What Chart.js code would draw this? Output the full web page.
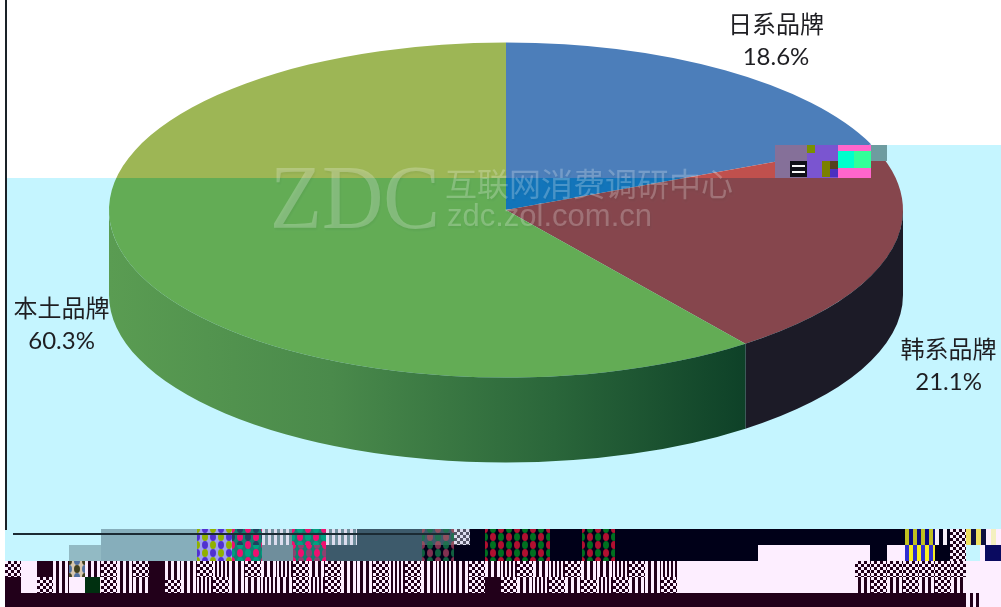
<!DOCTYPE html>
<html>
<head>
<meta charset="utf-8">
<style>
  html, body { margin: 0; padding: 0; background: #fff; overflow: hidden; }
  canvas { display: block; }
</style>
<script src="https://cdn.jsdelivr.net/npm/chart.js@4/dist/chart.umd.min.js"></script>
</head>
<body>
<canvas id="pie" width="1001" height="607"></canvas>
<script>
const categories = ['日系品牌', '韩系品牌', '本土品牌'];
const shares = [18.6, 21.1, 60.3];
const sliceColors = ['#4C7EBA', '#C0504D', '#9DB655'];

const tilt = 0.422;   // ellipse height / width
const depth = 85;     // side wall height
const labelFont = '"Lato", "Noto Sans CJK SC", sans-serif';
// label centre relative to the middle of the slice rim
const labelOffsets = [[51, -29], [59, 113], [-68, 62]];

const DARK = '#22001A', PALE = '#FDEEFF', NAVY = '#000018';

function checker(ctx, x, y, w, h, a, b, cell) {
  ctx.fillStyle = a;
  ctx.fillRect(x, y, w, h);
  ctx.fillStyle = b;
  for (let j = 0; j * cell < h; j++) {
    for (let i = j % 2; i * cell < w; i += 2) {
      ctx.fillRect(x + i * cell, y + j * cell, Math.min(cell, w - i * cell), Math.min(cell, h - j * cell));
    }
  }
}

function stripes(ctx, x, y, w, h, a, b, step) {
  ctx.fillStyle = a;
  ctx.fillRect(x, y, w, h);
  ctx.fillStyle = b;
  for (let i = 0; i < w; i += step * 2) ctx.fillRect(x + i, y, Math.min(step, w - i), h);
}

// red/green blotches of the broken blocks
function blotches(ctx, x, y, w, h, base, c1, c2) {
  ctx.save();
  ctx.beginPath();
  ctx.rect(x, y, w, h);
  ctx.clip();
  ctx.fillStyle = base;
  ctx.fillRect(x, y, w, h);
  for (let j = 0; j < h + 8; j += 8) {
    for (let i = 0; i < w + 8; i += 8) {
      ctx.fillStyle = (i + j) % 16 === 0 ? c1 : c2;
      ctx.beginPath();
      ctx.ellipse(x + i, y + j, 3, 4, 0, 0, Math.PI * 2);
      ctx.fill();
    }
  }
  ctx.restore();
}

function drawNoiseStrip(ctx) {
  const solid = [
    [0, 178, 5, 351, '#FFFFFF'], [0, 529, 5, 78, '#FFFFFF'],
    [5, 529, 96, 16, '#C5F5FF'], [101, 529, 96, 16, '#86AEBB'], [357, 529, 65, 16, '#3D5A6B'],
    [422, 529, 579, 16, NAVY], [5, 545, 64, 16, '#C5F5FF'], [69, 545, 32, 16, '#92BAC4'],
    [101, 545, 96, 16, '#86AEBB'], [262, 545, 31, 16, '#6F8E9C'], [326, 545, 96, 16, '#3D5A6B'],
    [422, 545, 336, 16, NAVY], [758, 545, 112, 16, PALE], [870, 545, 17, 16, NAVY],
    [887, 545, 18, 16, PALE], [935, 545, 15, 16, NAVY], [980, 545, 21, 16, PALE],
    [985, 545, 16, 16, '#0A0A60'], [5, 561, 996, 32, DARK], [5, 593, 961, 14, DARK]
  ];
  solid.forEach(b => { ctx.fillStyle = b[4]; ctx.fillRect(b[0], b[1], b[2], b[3]); });

  // mixed colour blocks
  blotches(ctx, 197, 529, 35, 32, '#A0A0F0', '#90B000', '#5030D0');
  blotches(ctx, 232, 529, 30, 16, '#108070', '#F01070', '#204060');
  blotches(ctx, 292, 529, 34, 16, '#108070', '#F01070', '#00A080');
  blotches(ctx, 232, 545, 30, 16, '#108070', '#F01070', '#00A080');
  blotches(ctx, 293, 545, 33, 16, '#108070', '#F01070', '#904070');
  blotches(ctx, 422, 529, 32, 16, '#3D5A6B', '#905060', '#207050');
  blotches(ctx, 422, 545, 32, 16, NAVY, '#803050', '#106040');
  blotches(ctx, 485, 529, 65, 32, NAVY, '#B01030', '#007020');
  blotches(ctx, 582, 529, 33, 32, NAVY, '#B01030', '#007020');
  stripes(ctx, 262, 529, 30, 16, '#6F8E9C', '#DDE', 3);
  stripes(ctx, 326, 529, 31, 16, '#6F8E9C', '#DDE', 3);
  checker(ctx, 454, 529, 16, 16, '#556', '#DDE', 3);
  stripes(ctx, 905, 529, 30, 16, '#0A0A80', '#C0C020', 4);
  stripes(ctx, 935, 529, 15, 16, NAVY, '#F4F0F8', 4);
  checker(ctx, 950, 529, 16, 32, DARK, PALE, 3);
  stripes(ctx, 966, 529, 20, 16, '#101040', '#F0E060', 5);
  stripes(ctx, 986, 529, 15, 16, '#F4F0C0', PALE, 5);
  stripes(ctx, 905, 545, 30, 16, '#F8F020', '#3030D0', 4);

  // black and pale pattern rows, one letter per 16px cell
  const rows = [
    [561, 'cpdsmscscdsscxscsxcscsscxcsxscsxcsxcssxcsxs'],
    [577, 'dpcspgcssdcsxcssxscxcsscxcsxscdcsxcscxcsscs']
  ];
  rows.forEach(r => {
    r[1].split('').forEach((k, i) => {
      const x = 5 + i * 16;
      if (k === 'c') checker(ctx, x, r[0], 16, 16, DARK, PALE, 3);
      if (k === 's' || k === 'x') stripes(ctx, x, r[0], 16, 16, DARK, PALE, k === 's' ? 3 : 2);
      if (k === 'p') { ctx.fillStyle = PALE; ctx.fillRect(x, r[0], 16, 16); }
      if (k === 'g') { ctx.fillStyle = '#F8E8F0'; ctx.fillRect(x, r[0], 16, 16); }
      if (k === 'm') blotches(ctx, x, r[0], 16, 16, '#D8C8B0', '#404020', '#5070A0');
    });
  });
  ctx.fillStyle = '#003010';
  ctx.fillRect(85, 577, 15, 16);
  ctx.fillStyle = PALE;
  ctx.fillRect(678, 561, 177, 32);
  ctx.fillRect(966, 561, 35, 46);
  for (let x = 855; x < 966; x += 16) {
    checker(ctx, x, 561, Math.min(16, 966 - x), 16, DARK, PALE, 3);
    if ((x - 855) % 32 === 0) stripes(ctx, x, 577, Math.min(16, 966 - x), 16, DARK, PALE, 3);
    else checker(ctx, x, 577, Math.min(16, 966 - x), 16, DARK, PALE, 3);
  }
  stripes(ctx, 970, 593, 11, 14, PALE, DARK, 3);

  ctx.fillStyle = '#1B2A33';
  ctx.fillRect(13, 533, 437, 2);
}

function drawTearBlock(ctx) {
  const b = [
    [775, 145, 32, 33, '#857099'], [790, 161, 17, 16, '#101018'], [792, 165, 13, 2, '#F8F8F8'],
    [792, 171, 13, 2, '#F8F8F8'], [807, 145, 31, 33, '#7A55D0'], [807, 145, 8, 8, '#7A9000'],
    [822, 161, 8, 16, '#7A8000'], [830, 161, 8, 8, '#554020'], [830, 169, 8, 8, '#4A30C0'],
    [838, 145, 33, 33, '#FF66CC'], [838, 151, 16, 17, '#00FFCC'], [854, 151, 17, 17, '#33FF99'],
    [871, 145, 16, 16, '#6E9CA0']
  ];
  b.forEach(r => { ctx.fillStyle = r[4]; ctx.fillRect(r[0], r[1], r[2], r[3]); });
}

const pie3d = {
  id: 'pie3d',
  beforeDraw(chart) {
    chart.ctx.fillStyle = '#fff';
    chart.ctx.fillRect(0, 0, chart.width, chart.height);
  },
  beforeDatasetDraw(chart) {
    const arc = chart.getDatasetMeta(0).data[0];
    const ctx = chart.ctx;
    ctx.save();
    ctx.translate(0, arc.y);
    ctx.scale(1, tilt);
    ctx.translate(0, -arc.y);
  },
  afterDatasetDraw(chart) {
    chart.ctx.restore();
  },
  afterDatasetsDraw(chart) {
    const ctx = chart.ctx;
    const arcs = chart.getDatasetMeta(0).data;

    // the colour shift of the lower part of the picture
    ctx.save();
    ctx.globalCompositeOperation = 'difference';
    ctx.fillStyle = 'rgb(58,10,0)';
    ctx.fillRect(0, 178, chart.width, chart.height - 178);
    ctx.fillRect(871, 145, chart.width - 871, 33);
    ctx.restore();

    // side wall, only the front half shows
    const x0 = arcs[0].x - arcs[0].outerRadius;
    const wallGreen = ctx.createLinearGradient(x0, 0, 745, 0);
    wallGreen.addColorStop(0, '#5A9C52');
    wallGreen.addColorStop(0.35, '#4A8A4B');
    wallGreen.addColorStop(0.7, '#2A663A');
    wallGreen.addColorStop(1, '#0E4128');
    const wallFills = [null, '#1C1B27', wallGreen];
    arcs.forEach((a, i) => {
      const from = Math.max(a.startAngle, 0);
      const to = Math.min(a.endAngle, Math.PI);
      if (to <= from) return;
      ctx.beginPath();
      ctx.ellipse(a.x, a.y, a.outerRadius, a.outerRadius * tilt, 0, from, to);
      ctx.ellipse(a.x, a.y + depth, a.outerRadius, a.outerRadius * tilt, 0, to, from, true);
      ctx.closePath();
      ctx.fillStyle = wallFills[i];
      ctx.fill();
    });

    drawNoiseStrip(ctx);

    // left border of the picture
    ctx.fillStyle = '#1A2228';
    ctx.fillRect(5, 0, 2, 530);

    // watermark
    ctx.save();
    ctx.fillStyle = 'rgba(255,255,255,0.24)';
    ctx.shadowColor = 'rgba(0,50,40,0.25)';
    ctx.shadowOffsetX = 1;
    ctx.shadowOffsetY = 2;
    ctx.shadowBlur = 2;
    ctx.textAlign = 'left';
    ctx.textBaseline = 'alphabetic';
    ctx.font = '90px "Liberation Serif", serif';
    ctx.fillText('ZDC', 270, 228, 170);
    ctx.font = '32px "Noto Sans CJK SC", sans-serif';
    ctx.fillText('互联网消费调研中心', 445, 196);
    ctx.font = '31px "Liberation Sans", sans-serif';
    ctx.fillText('zdc.zol.com.cn', 447, 226);
    ctx.restore();

    drawTearBlock(ctx);

    // slice labels
    ctx.fillStyle = '#1E1E22';
    ctx.textAlign = 'center';
    ctx.textBaseline = 'middle';
    arcs.forEach((a, i) => {
      const mid = (a.startAngle + a.endAngle) / 2;
      const lx = a.x + Math.cos(mid) * a.outerRadius + labelOffsets[i][0];
      const ly = a.y + Math.sin(mid) * a.outerRadius * tilt + labelOffsets[i][1];
      ctx.font = '24px ' + labelFont;
      ctx.fillText(categories[i], lx, ly - 16);
      ctx.fillText(shares[i].toFixed(1) + '%', lx, ly + 16);
    });
  }
};

new Chart(document.getElementById('pie'), {
  type: 'pie',
  data: {
    labels: categories,
    datasets: [{
      data: shares,
      backgroundColor: sliceColors,
      borderWidth: 0,
      clip: false
    }]
  },
  options: {
    responsive: false,
    animation: false,
    radius: 397,
    layout: { padding: { left: 11, bottom: 187 } },
    plugins: {
      legend: { display: false },
      tooltip: { enabled: false }
    }
  },
  plugins: [pie3d]
});
</script>
</body>
</html>
